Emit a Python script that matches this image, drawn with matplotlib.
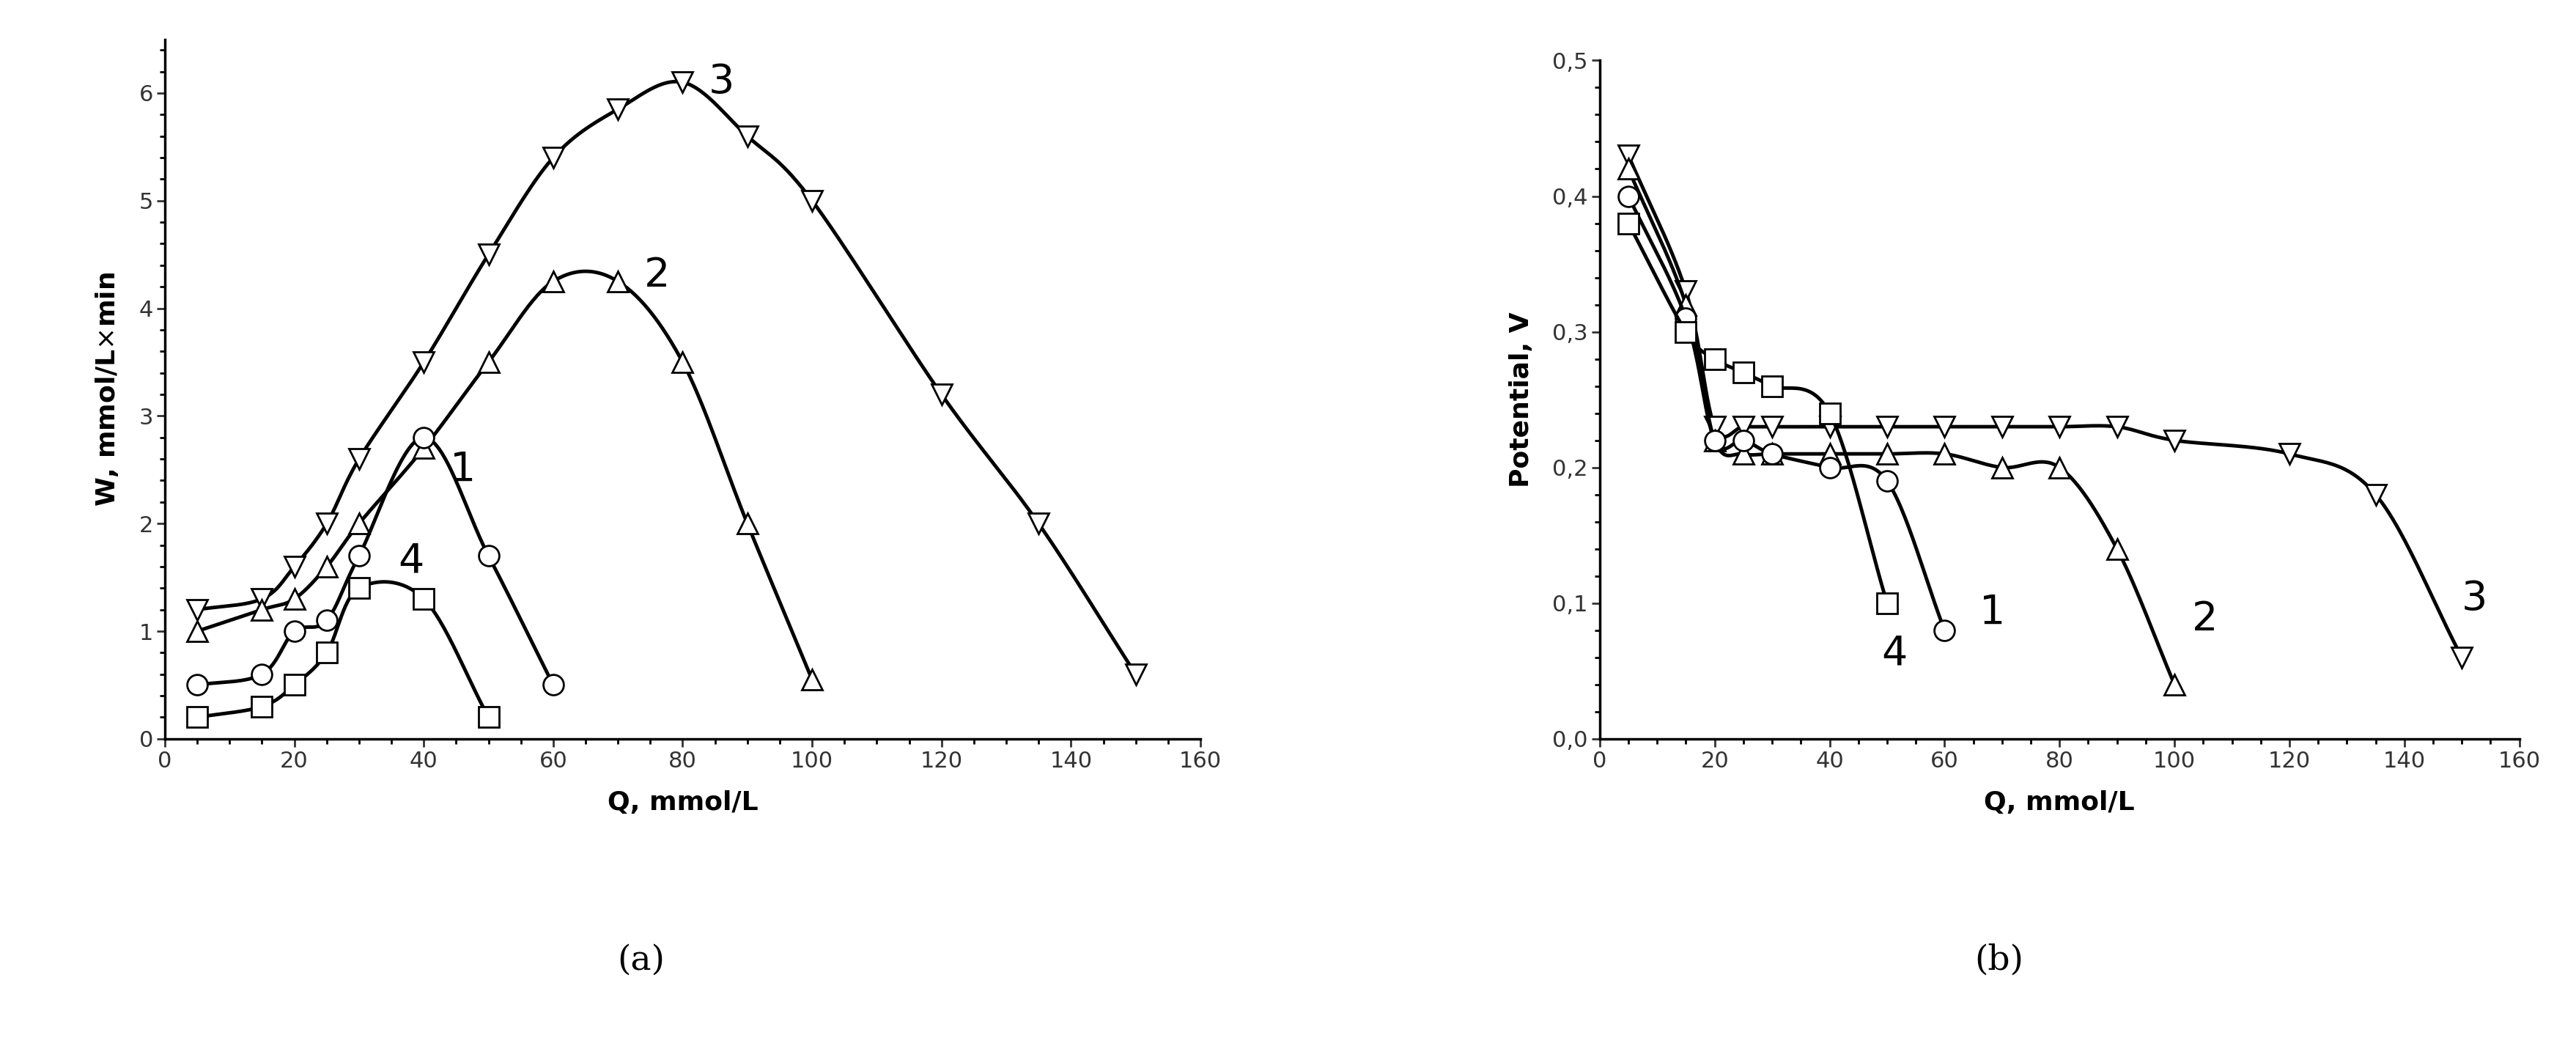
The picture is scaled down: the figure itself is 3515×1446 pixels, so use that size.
import numpy as np
import matplotlib
matplotlib.use("Agg")
import matplotlib.pyplot as plt

# =========================
# Data
# =========================
Q3 = [5, 15, 20, 25, 30, 40, 50, 60, 70, 80, 90, 100, 120, 135, 150]
Q2 = [5, 15, 20, 25, 30, 40, 50, 60, 70, 80, 90, 100]
Q1 = [5, 15, 20, 25, 30, 40, 50, 60]
Q4 = [5, 15, 20, 25, 30, 40, 50]

W3 = [1.2, 1.3, 1.6, 2.0, 2.6, 3.5, 4.5, 5.4, 5.85, 6.1, 5.6, 5.0, 3.2, 2.0, 0.6]
W2 = [1.0, 1.2, 1.3, 1.6, 2.0, 2.7, 3.5, 4.25, 4.25, 3.5, 2.0, 0.55]
W1 = [0.5, 0.6, 1.0, 1.1, 1.7, 2.8, 1.7, 0.5]
W4 = [0.2, 0.3, 0.5, 0.8, 1.4, 1.3, 0.2]

P3 = [0.43, 0.33, 0.23, 0.23, 0.23, 0.23, 0.23, 0.23, 0.23, 0.23, 0.23, 0.22, 0.21, 0.18, 0.06]
P2 = [0.42, 0.32, 0.22, 0.21, 0.21, 0.21, 0.21, 0.21, 0.20, 0.20, 0.14, 0.04]
P1 = [0.40, 0.31, 0.22, 0.22, 0.21, 0.20, 0.19, 0.08]
P4 = [0.38, 0.30, 0.28, 0.27, 0.26, 0.24, 0.10]

MARKERS = {"1": "o", "2": "^", "3": "v", "4": "s"}


def smooth(x, y, n=30):
    """catmull-rom through the points"""
    x = np.asarray(x, float)
    y = np.asarray(y, float)
    px = np.concatenate([[2 * x[0] - x[1]], x, [2 * x[-1] - x[-2]]])
    py = np.concatenate([[2 * y[0] - y[1]], y, [2 * y[-1] - y[-2]]])
    xs, ys = [], []
    t = np.linspace(0, 1, n)
    for i in range(1, len(px) - 2):
        for arr, out in ((px, xs), (py, ys)):
            p0, p1, p2, p3 = arr[i - 1:i + 3]
            out.append(0.5 * (2 * p1 + (-p0 + p2) * t + (2 * p0 - 5 * p1 + 4 * p2 - p3) * t ** 2
                              + (-p0 + 3 * p1 - 3 * p2 + p3) * t ** 3))
    return np.concatenate(xs), np.concatenate(ys)


def draw(ax, x, y, m):
    sx, sy = smooth(x, y)
    ax.plot(sx, sy, color="black", lw=3.5)
    ax.plot(x, y, ls="none", marker=m, ms=20, mfc="white", mec="black", mew=2)


def style(ax):
    for s in ("top", "right"):
        ax.spines[s].set_visible(False)
    for s in ("left", "bottom"):
        ax.spines[s].set_linewidth(2.5)
    ax.tick_params(labelsize=22, width=2, length=8, colors="#333333")
    ax.minorticks_on()
    ax.tick_params(which="minor", width=2, length=5)
    ax.set_xlim(0, 160)
    ax.set_xticks(range(0, 161, 20))


fig = plt.figure(figsize=(35.15, 14.46), dpi=100)
axa = fig.add_axes([0.064, 0.303, 0.402, 0.66])
axb = fig.add_axes([0.621, 0.303, 0.357, 0.64])

for x, y, k in ((Q3, W3, "3"), (Q2, W2, "2"), (Q1, W1, "1"), (Q4, W4, "4")):
    draw(axa, x, y, MARKERS[k])
style(axa)
axa.set_ylim(0, 6.5)
axa.set_yticks(range(0, 7))
axa.set_xlabel("Q, mmol/L", fontsize=26, fontweight="bold", labelpad=18)
axa.set_ylabel("W, mmol/L$\\times$min", fontsize=26, fontweight="bold", labelpad=18)
for t, x, y in (("3", 84, 6.0), ("2", 74, 4.2), ("1", 44, 2.4), ("4", 36, 1.55)):
    axa.text(x, y, t, fontsize=40)

for x, y, k in ((Q3, P3, "3"), (Q2, P2, "2"), (Q1, P1, "1"), (Q4, P4, "4")):
    draw(axb, x, y, MARKERS[k])
style(axb)
axb.set_ylim(0, 0.5)
axb.set_yticks(np.arange(0, 0.51, 0.1))
axb.set_yticklabels([f"{v:.1f}".replace(".", ",") for v in np.arange(0, 0.51, 0.1)])
axb.set_xlabel("Q, mmol/L", fontsize=26, fontweight="bold", labelpad=18)
axb.set_ylabel("Potential, V", fontsize=26, fontweight="bold", labelpad=18)
for t, x, y in (("1", 66, 0.085), ("2", 103, 0.08), ("3", 150, 0.095), ("4", 49, 0.055)):
    axb.text(x, y, t, fontsize=40)

fig.text(0.249, 0.085, "(a)", fontsize=34, ha="center", family="DejaVu Serif")
fig.text(0.776, 0.085, "(b)", fontsize=34, ha="center", family="DejaVu Serif")

fig.savefig("out.png", dpi=100, facecolor="white")
